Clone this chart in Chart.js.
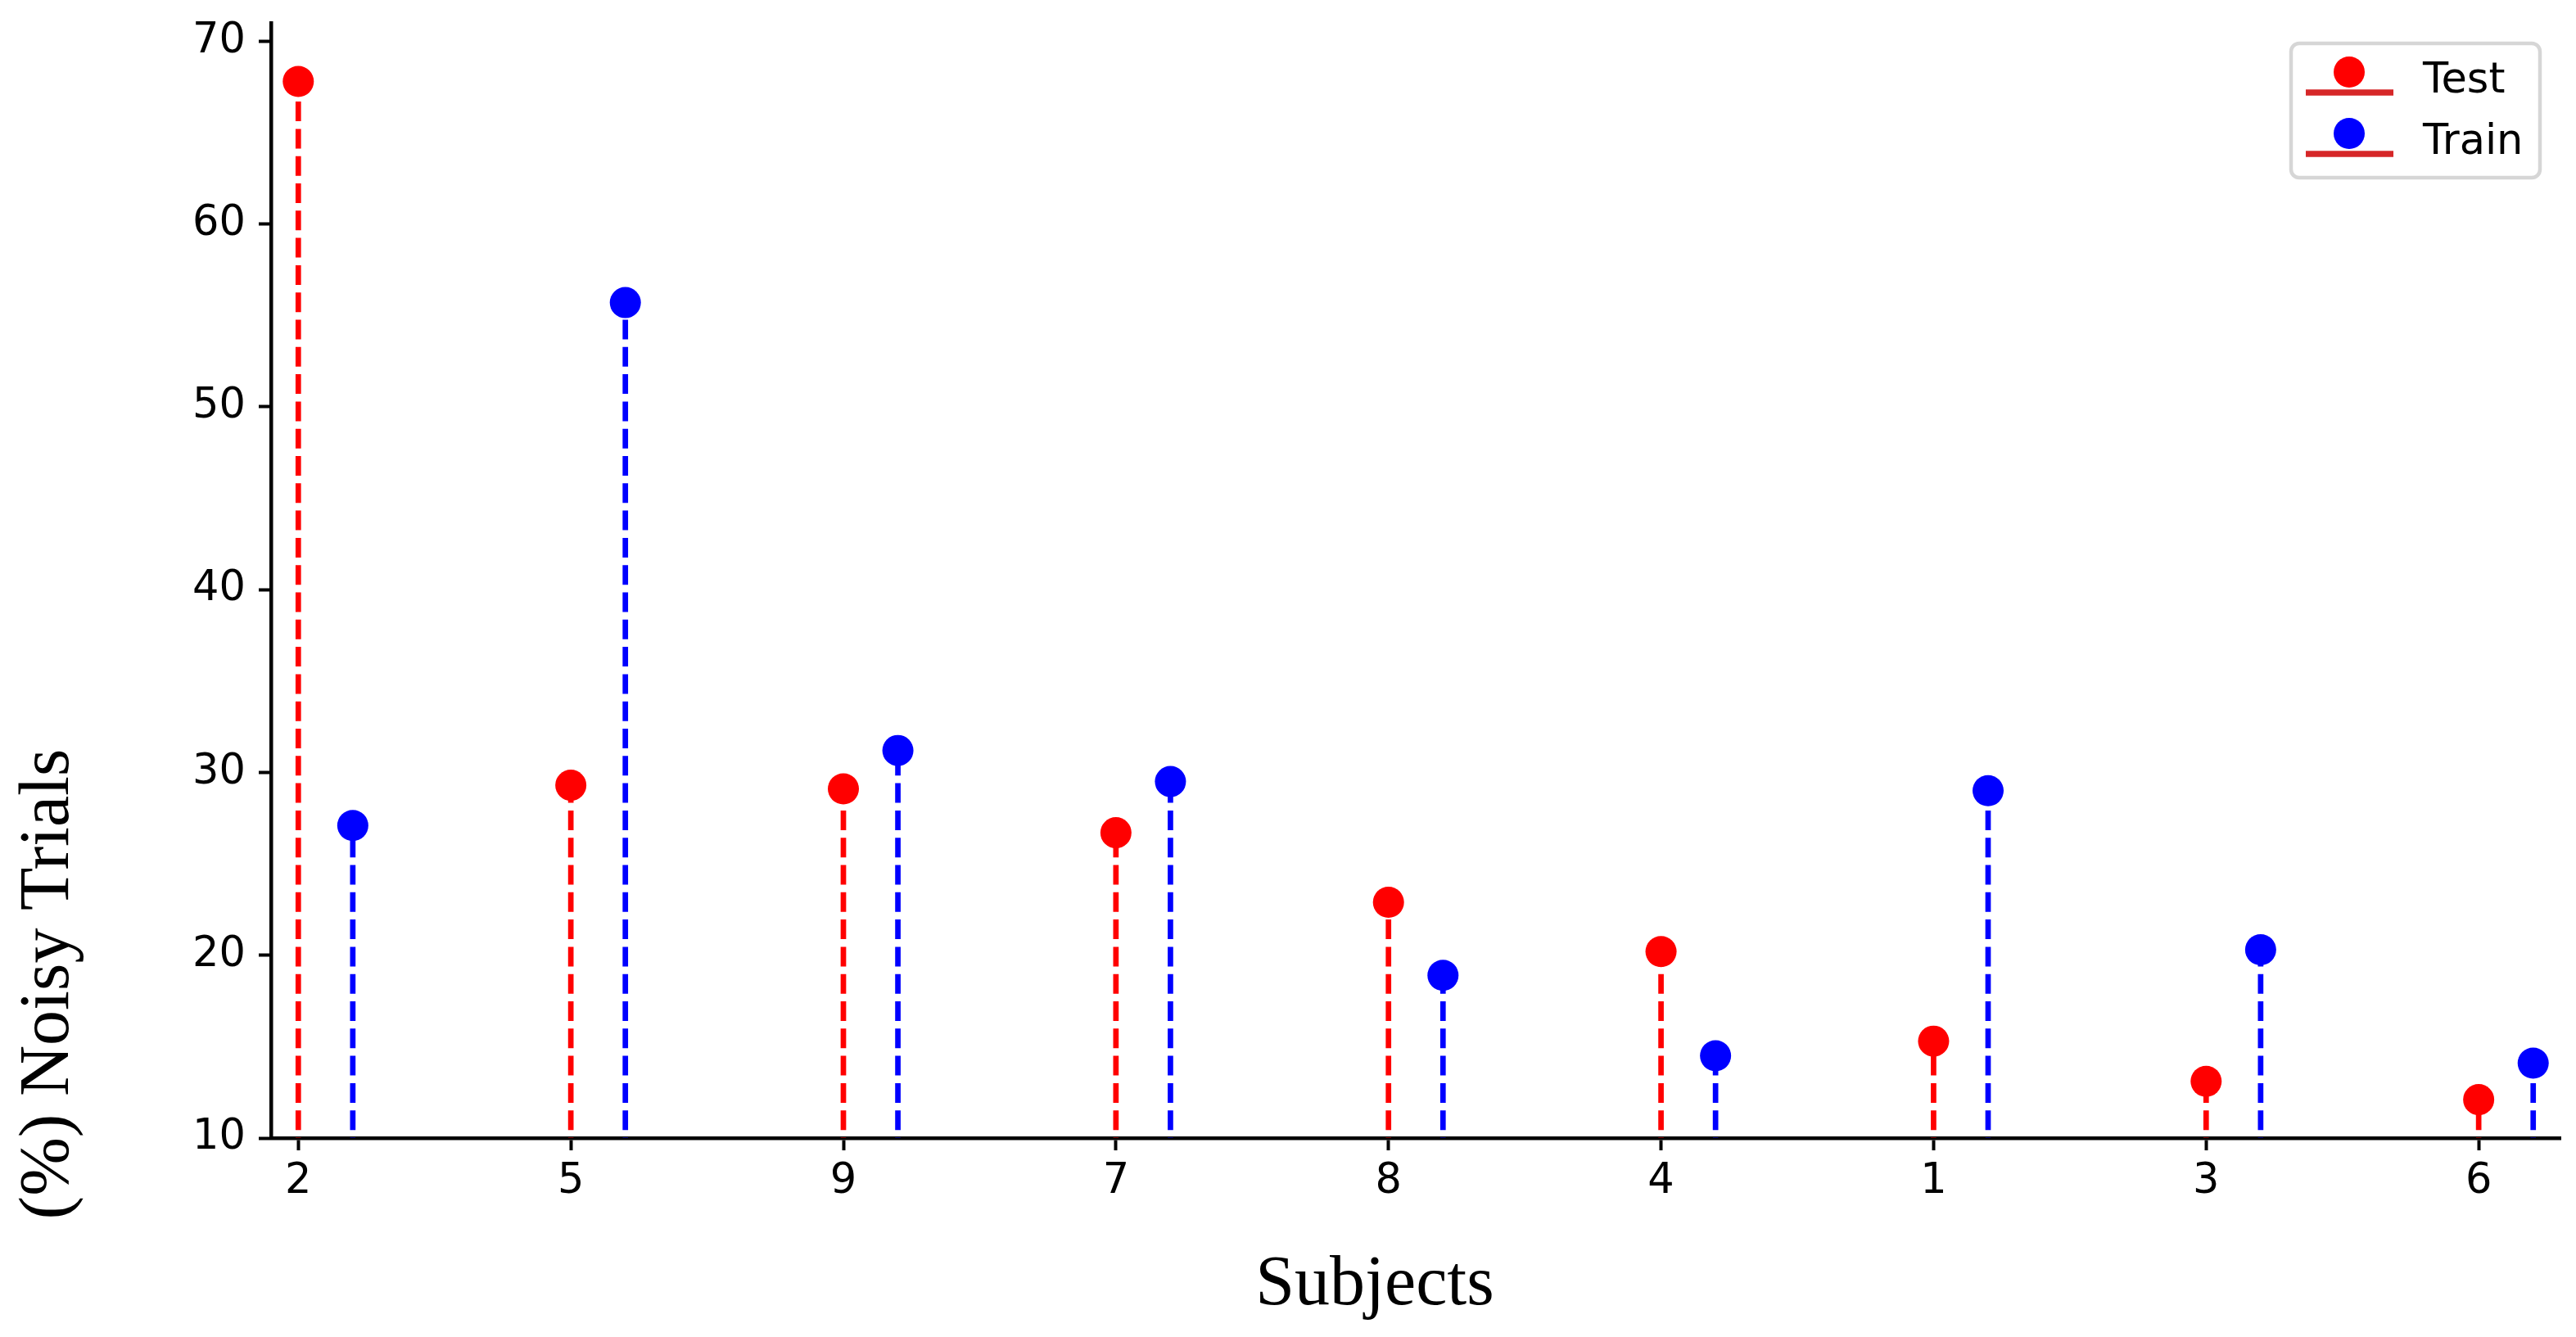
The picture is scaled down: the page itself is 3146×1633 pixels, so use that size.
<!DOCTYPE html>
<html>
<head>
<meta charset="utf-8">
<script src="https://cdn.jsdelivr.net/npm/chart.js@4"></script>
<style>
  html, body { margin: 0; padding: 0; background: #fff; }
  canvas { display: block; }
</style>
</head>
<body>
<canvas id="chart" width="3146" height="1633"></canvas>
<script>
// subjects in plotted order
const subjects = ['2', '5', '9', '7', '8', '4', '1', '3', '6'];
const testNoisy = [67.8, 29.3, 29.1, 26.7, 22.9, 20.2, 15.3, 13.1, 12.1];
const trainNoisy = [27.1, 55.7, 31.2, 29.5, 18.9, 14.5, 29.0, 20.3, 14.1];
const yTicks = [10, 20, 30, 40, 50, 60, 70];

const TRAIN_SHIFT = 0.2;   // train stems sit just right of the subject tick
const BASELINE = 0;

const RED = '#ff0000';
const BLUE = '#0000ff';

function stemPoints(values, shift) {
    const pts = [];
    values.forEach((v, i) => {
        pts.push({x: i + shift, y: BASELINE});
        pts.push({x: i + shift, y: v});
        pts.push({x: i + shift, y: null});
    });
    return pts;
}

function markerPoints(values, shift) {
    return values.map((v, i) => ({x: i + shift, y: v}));
}

const stemStyle = {
    type: 'line',
    borderWidth: 6.7,
    borderDash: [24, 9.3],
    pointRadius: 0,
    spanGaps: false,
    fill: false,
    order: 2
};

// legend + axis titles drawn by hand, matplotlib style
const extras = {
    id: 'extras',
    afterDraw(chart) {
        const ctx = chart.ctx;
        const area = chart.chartArea;
        ctx.save();

        // legend box
        const bx = area.right - 329, by = area.top + 25, bw = 304, bh = 164;
        ctx.beginPath();
        ctx.roundRect(bx, by, bw, bh, 10);
        ctx.fillStyle = 'rgba(255,255,255,0.8)';
        ctx.fill();
        ctx.lineWidth = 4.5;
        ctx.strokeStyle = '#d6d6d6';
        ctx.stroke();

        const rows = [
            {label: 'Test', color: RED, y: by + 35},
            {label: 'Train', color: BLUE, y: by + 110}
        ];
        rows.forEach(r => {
            ctx.beginPath();
            ctx.moveTo(bx + 18, r.y + 25);
            ctx.lineTo(bx + 125, r.y + 25);
            ctx.lineWidth = 7.5;
            ctx.strokeStyle = '#d62728';
            ctx.stroke();
            ctx.beginPath();
            ctx.arc(bx + 71, r.y, 19, 0, Math.PI * 2);
            ctx.fillStyle = r.color;
            ctx.fill();
            ctx.fillStyle = '#000';
            ctx.font = '51px "DejaVu Sans"';
            ctx.textAlign = 'left';
            ctx.textBaseline = 'alphabetic';
            ctx.fillText(r.label, bx + 161, r.y + 25);
        });

        // axis titles
        ctx.fillStyle = '#000';
        ctx.font = '86px "Liberation Serif"';
        ctx.textAlign = 'center';
        ctx.textBaseline = 'middle';
        ctx.fillText('Subjects', 1679, 1570);

        ctx.translate(60, 1202);
        ctx.rotate(-Math.PI / 2);
        ctx.fillText('(%) Noisy Trials', 0, 0);
        ctx.restore();
    }
};

new Chart(document.getElementById('chart'), {
    type: 'scatter',
    data: {
        datasets: [
            {label: 'Test', type: 'scatter', data: markerPoints(testNoisy, 0),
             backgroundColor: RED, borderWidth: 0, pointRadius: 19, order: 0},
            {label: 'Train', type: 'scatter', data: markerPoints(trainNoisy, TRAIN_SHIFT),
             backgroundColor: BLUE, borderWidth: 0, pointRadius: 19, order: 0},
            Object.assign({label: 'Test stems', data: stemPoints(testNoisy, 0), borderColor: RED}, stemStyle),
            Object.assign({label: 'Train stems', data: stemPoints(trainNoisy, TRAIN_SHIFT), borderColor: BLUE}, stemStyle)
        ]
    },
    options: {
        responsive: false,
        animation: false,
        devicePixelRatio: 1,
        layout: {padding: {top: 28, right: 19, left: 0, bottom: 0}},
        plugins: {
            legend: {display: false},
            tooltip: {enabled: false}
        },
        scales: {
            x: {
                type: 'linear',
                min: -0.1,
                max: 8.3,
                afterBuildTicks: s => { s.ticks = subjects.map((_, i) => ({value: i})); },
                afterFit: s => { s.height = 243; s.paddingLeft = 0; s.paddingRight = 0; },
                ticks: {
                    callback: v => subjects[v],
                    autoSkip: false,
                    maxRotation: 0,
                    padding: 8,
                    color: '#000',
                    font: {family: 'DejaVu Sans', size: 51}
                },
                grid: {drawOnChartArea: false, drawTicks: true, tickLength: 15, tickWidth: 4, color: '#000'},
                border: {display: true, width: 4.5, color: '#000'}
            },
            y: {
                min: 10,
                max: 71,
                afterBuildTicks: s => { s.ticks = yTicks.map(v => ({value: v})); },
                afterFit: s => { s.width = 331; s.paddingTop = 0; s.paddingBottom = 0; },
                ticks: {
                    padding: 16,
                    color: '#000',
                    font: {family: 'DejaVu Sans', size: 51}
                },
                grid: {drawOnChartArea: false, drawTicks: true, tickLength: 15, tickWidth: 4, color: '#000'},
                border: {display: true, width: 4.5, color: '#000'}
            }
        }
    },
    plugins: [extras]
});
</script>
</body>
</html>
